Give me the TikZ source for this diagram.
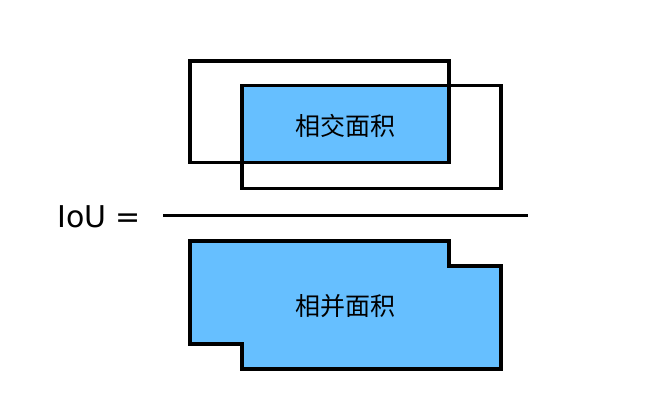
\documentclass[tikz,border=0pt]{standalone}
\usepackage{fontspec}
\setmainfont{DejaVu Sans}
\newfontfamily\cjk{Noto Sans CJK SC}
\definecolor{areablue}{HTML}{66BFFF}
\begin{document}
\begin{tikzpicture}[x=1pt,y=-1pt,
  box/.style={draw=black,line width=3.4pt,line join=miter},
  filled/.style={box,fill=areablue},
  lbl/.style={font=\cjk\fontsize{25}{25}\selectfont,inner sep=0pt}]
\useasboundingbox (0,0) rectangle (663,416);
% intersection fill
\fill[areablue] (242,85.5) rectangle (449,162.5);
\draw[box] (190,61) rectangle (449,162.5) coordinate (r1);
\draw[box] (242,85.5) rectangle (501,188.5) coordinate (r2);
\node[lbl] (inter) at (345.5,126) {相交面积};
% fraction
\coordinate (fl) at (163,215);
\coordinate (fr) at (528,215);
\draw[line width=3pt] (fl) -- (fr);
\node[anchor=base west,inner sep=0pt,font=\fontsize{30}{30}\selectfont] (iou) at (57,227) {IoU =};
% union
\draw[filled] (190,241) -- (449,241) -- (449,266) -- (501,266) -- (501,369) -- (242,369) -- (242,344) -- (190,344) -- cycle;
\node[lbl] (union) at (345.5,306) {相并面积};
\end{tikzpicture}
\end{document}
